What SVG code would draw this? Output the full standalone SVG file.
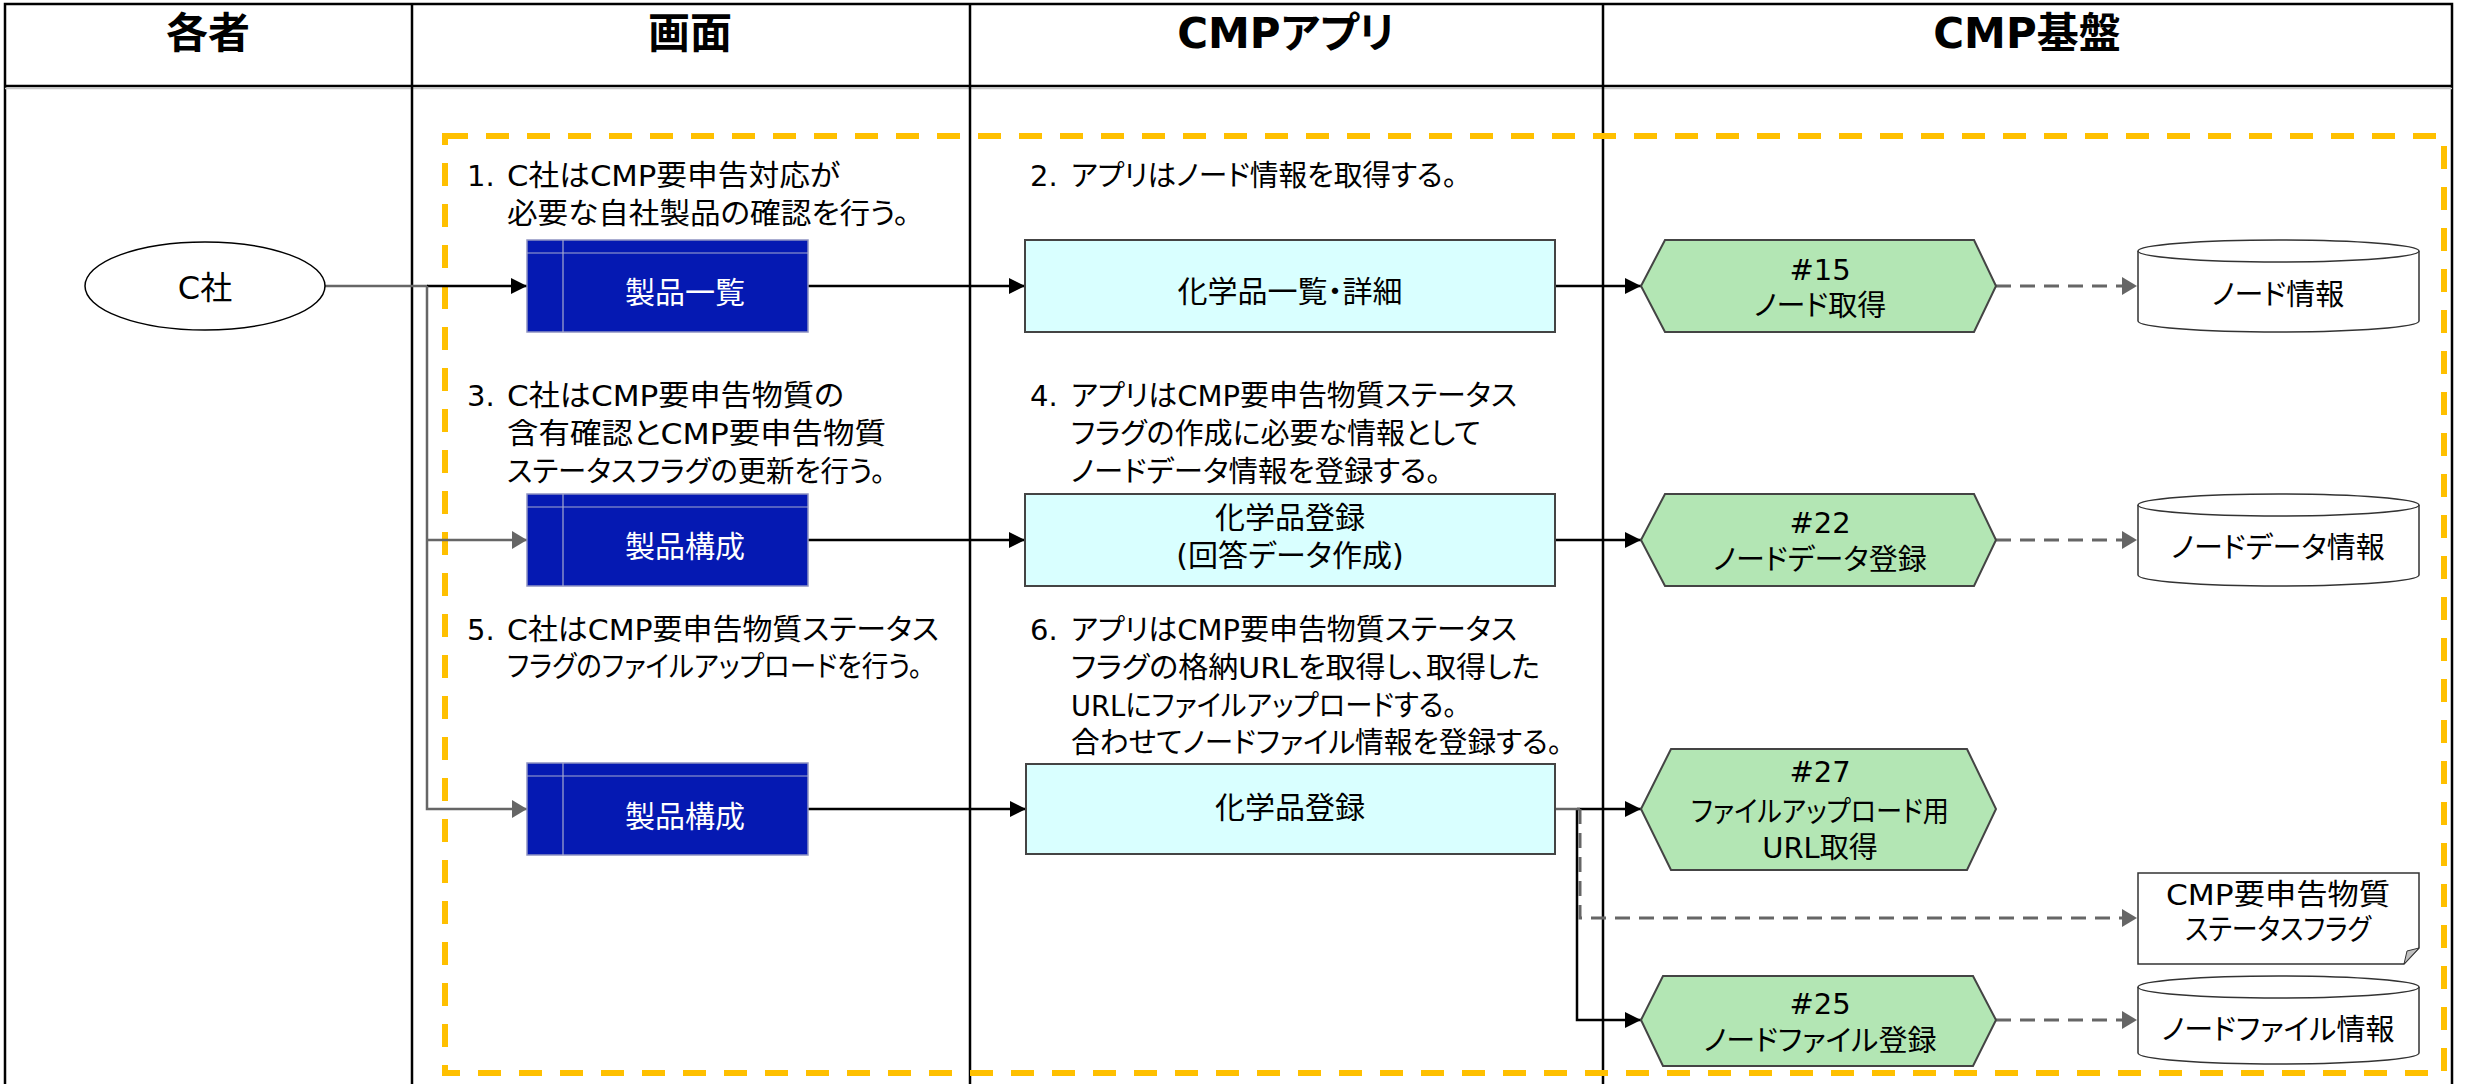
<svg xmlns="http://www.w3.org/2000/svg" width="2466" height="1084" viewBox="0 0 2466 1084">
<defs>
<style>
text{font-family:"DejaVu Sans","Noto Sans CJK JP",sans-serif;fill:#000;font-feature-settings:"palt" 1;}
.hd{font-size:42px;font-weight:bold;text-anchor:middle;}
.st{font-size:29px;}
.bx{font-size:30px;text-anchor:middle;}
.hx{font-size:29px;text-anchor:middle;}
.cy{font-size:29px;text-anchor:middle;}
.wt{fill:#fff;}
.grid{stroke:#000;stroke-width:2.5;fill:none;}
.blue{fill:#0519B2;stroke:#8E93C2;stroke-width:1.5;}
.bline{stroke:#A6AACF;stroke-width:1.2;}
.cyan{fill:#D9FFFF;stroke:#444;stroke-width:2;}
.hex{fill:#B3E6B4;stroke:#444;stroke-width:2;}
.db{fill:#fff;stroke:#333;stroke-width:1.5;}
.blk{stroke:#000;stroke-width:2.5;fill:none;}
.gry{stroke:#666;stroke-width:2.5;fill:none;}
.dsh{stroke:#666;stroke-width:3;fill:none;stroke-dasharray:15 9;}
</style>
<marker id="ab" markerUnits="userSpaceOnUse" markerWidth="18" markerHeight="18" refX="16" refY="8" orient="auto"><path d="M0,0 L16,8 L0,16 Z" fill="#000"/></marker>
<marker id="ag" markerUnits="userSpaceOnUse" markerWidth="18" markerHeight="20" refX="15" refY="9" orient="auto"><path d="M0,0 L15,9 L0,18 Z" fill="#666"/></marker>
</defs>
<rect width="2466" height="1084" fill="#fff"/>
<g id="frame">
<path class="grid" d="M5,1084 V4 H2452 V1084"/>
<line x1="5" y1="86" x2="2452" y2="86" stroke="#000" stroke-width="2.5"/>
<line x1="5" y1="88.5" x2="2452" y2="88.5" stroke="#C8C8C8" stroke-width="1.5"/>
<line class="grid" x1="412" y1="4" x2="412" y2="1084"/>
<line class="grid" x1="970" y1="4" x2="970" y2="1084"/>
<line class="grid" x1="1603" y1="4" x2="1603" y2="1084"/>
<text class="hd" x="208" y="48">各者</text>
<text class="hd" x="690" y="48">画面</text>
<text class="hd" x="1286" y="48">CMPアプリ</text>
<text class="hd" x="2027" y="48">CMP基盤</text>
</g>
<rect id="scope" x="445" y="136" width="1999" height="937" fill="none" stroke="#FFC000" stroke-width="6" stroke-dasharray="23 18"/>
<g id="steps">
<text class="st" x="467" y="186">1.</text>
<text class="st" x="507" y="186" textLength="333" lengthAdjust="spacingAndGlyphs">C社はCMP要申告対応が</text>
<text class="st" x="507" y="224" textLength="402" lengthAdjust="spacingAndGlyphs">必要な自社製品の確認を行う。</text>
<text class="st" x="1030" y="186">2.</text>
<text class="st" x="1071" y="186" textLength="386" lengthAdjust="spacingAndGlyphs">アプリはノード情報を取得する。</text>
<text class="st" x="467" y="406">3.</text>
<text class="st" x="507" y="406" textLength="337" lengthAdjust="spacingAndGlyphs">C社はCMP要申告物質の</text>
<text class="st" x="507" y="444" textLength="379" lengthAdjust="spacingAndGlyphs">含有確認とCMP要申告物質</text>
<text class="st" x="507" y="482" textLength="378" lengthAdjust="spacingAndGlyphs">ステータスフラグの更新を行う。</text>
<text class="st" x="1030" y="406">4.</text>
<text class="st" x="1071" y="406" textLength="446" lengthAdjust="spacingAndGlyphs">アプリはCMP要申告物質ステータス</text>
<text class="st" x="1071" y="444" textLength="410" lengthAdjust="spacingAndGlyphs">フラグの作成に必要な情報として</text>
<text class="st" x="1071" y="482" textLength="370" lengthAdjust="spacingAndGlyphs">ノードデータ情報を登録する。</text>
<text class="st" x="467" y="640">5.</text>
<text class="st" x="507" y="640" textLength="432" lengthAdjust="spacingAndGlyphs">C社はCMP要申告物質ステータス</text>
<text class="st" x="507" y="677" textLength="415" lengthAdjust="spacingAndGlyphs">フラグのファイルアップロードを行う。</text>
<text class="st" x="1030" y="640">6.</text>
<text class="st" x="1071" y="640" textLength="446" lengthAdjust="spacingAndGlyphs">アプリはCMP要申告物質ステータス</text>
<text class="st" x="1071" y="678" textLength="469" lengthAdjust="spacingAndGlyphs">フラグの格納URLを取得し、取得した</text>
<text class="st" x="1071" y="716" textLength="386" lengthAdjust="spacingAndGlyphs">URLにファイルアップロードする。</text>
<text class="st" x="1071" y="753" textLength="491" lengthAdjust="spacingAndGlyphs">合わせてノードファイル情報を登録する。</text>
</g>
<g id="connectors">
<line class="gry" x1="325" y1="286" x2="428" y2="286"/>
<line class="blk" x1="427" y1="286" x2="527" y2="286" marker-end="url(#ab)"/>
<path class="gry" d="M427,286 V809 H527" marker-end="url(#ag)"/>
<path class="gry" d="M427,540 H527" marker-end="url(#ag)"/>
<line class="blk" x1="808" y1="286" x2="1025" y2="286" marker-end="url(#ab)"/>
<line class="blk" x1="808" y1="540" x2="1025" y2="540" marker-end="url(#ab)"/>
<line class="blk" x1="808" y1="809" x2="1026" y2="809" marker-end="url(#ab)"/>
<line class="blk" x1="1555" y1="286" x2="1641" y2="286" marker-end="url(#ab)"/>
<line class="blk" x1="1555" y1="540" x2="1641" y2="540" marker-end="url(#ab)"/>
<line class="blk" x1="1577" y1="809" x2="1641" y2="809" marker-end="url(#ab)"/>
<path class="blk" d="M1577,809 V1020 H1641" marker-end="url(#ab)"/>
<path class="dsh" d="M1580,809 V918 H2137" marker-end="url(#ag)"/>
<line class="gry" x1="1555" y1="809" x2="1580" y2="809"/>
<line class="dsh" x1="1996" y1="286" x2="2137" y2="286" marker-end="url(#ag)"/>
<line class="dsh" x1="1996" y1="540" x2="2137" y2="540" marker-end="url(#ag)"/>
<line class="dsh" x1="1996" y1="1020" x2="2137" y2="1020" marker-end="url(#ag)"/>
</g>
<g id="n-csha">
<ellipse cx="205" cy="286" rx="120" ry="44" fill="#fff" stroke="#000" stroke-width="1.5"/>
<text class="bx" x="205" y="299" style="font-size:32px">C社</text>
</g>
<g id="n-seihin-ichiran">
<rect class="blue" x="527" y="240" width="281" height="92"/>
<line class="bline" x1="563" y1="240" x2="563" y2="332"/>
<line class="bline" x1="527" y1="253" x2="808" y2="253"/>
<text class="bx wt" x="685" y="303">製品一覧</text>
</g>
<g id="n-seihin-kosei-1">
<rect class="blue" x="527" y="494" width="281" height="92"/>
<line class="bline" x1="563" y1="494" x2="563" y2="586"/>
<line class="bline" x1="527" y1="507" x2="808" y2="507"/>
<text class="bx wt" x="685" y="557">製品構成</text>
</g>
<g id="n-seihin-kosei-2">
<rect class="blue" x="527" y="763" width="281" height="92"/>
<line class="bline" x1="563" y1="763" x2="563" y2="855"/>
<line class="bline" x1="527" y1="776" x2="808" y2="776"/>
<text class="bx wt" x="685" y="827">製品構成</text>
</g>
<g id="n-kagaku-ichiran">
<rect class="cyan" x="1025" y="240" width="530" height="92"/>
<text class="bx" x="1290" y="302">化学品一覧・詳細</text>
</g>
<g id="n-kagaku-toroku-1">
<rect class="cyan" x="1025" y="494" width="530" height="92"/>
<text class="bx" x="1290" y="528">化学品登録</text>
<text class="bx" x="1290" y="566">(回答データ作成)</text>
</g>
<g id="n-kagaku-toroku-2">
<rect class="cyan" x="1026" y="764" width="529" height="90"/>
<text class="bx" x="1290" y="818">化学品登録</text>
</g>
<g id="n-15">
<polygon class="hex" points="1641,286 1665,240 1974,240 1996,286 1974,332 1665,332"/>
<text class="hx" x="1820" y="280">#15</text>
<text class="hx" x="1820" y="316">ノード取得</text>
</g>
<g id="n-22">
<polygon class="hex" points="1641,540 1665,494 1974,494 1996,540 1974,586 1665,586"/>
<text class="hx" x="1820" y="533">#22</text>
<text class="hx" x="1820" y="570">ノードデータ登録</text>
</g>
<g id="n-27">
<polygon class="hex" points="1641,809 1671,749 1967,749 1996,809 1967,870 1671,870"/>
<text class="hx" x="1820" y="782">#27</text>
<text class="hx" x="1820" y="822" textLength="258" lengthAdjust="spacingAndGlyphs">ファイルアップロード用</text>
<text class="hx" x="1820" y="858">URL取得</text>
</g>
<g id="n-25">
<polygon class="hex" points="1641,1020 1663,976 1973,976 1996,1020 1973,1066 1663,1066"/>
<text class="hx" x="1820" y="1014">#25</text>
<text class="hx" x="1820" y="1051">ノードファイル登録</text>
</g>
<g id="n-node-info">
<path class="db" d="M2138,251 A140.5,11 0 0 1 2419,251 V321 A140.5,11 0 0 1 2138,321 Z"/>
<path class="db" fill="none" d="M2138,251 A140.5,11 0 0 0 2419,251"/>
<text class="cy" x="2278" y="305">ノード情報</text>
</g>
<g id="n-nodedata-info">
<path class="db" d="M2138,505 A140.5,11 0 0 1 2419,505 V575 A140.5,11 0 0 1 2138,575 Z"/>
<path class="db" fill="none" d="M2138,505 A140.5,11 0 0 0 2419,505"/>
<text class="cy" x="2278" y="558">ノードデータ情報</text>
</g>
<g id="n-flag">
<path class="db" d="M2138,873 H2419 V948 L2404,964 H2138 Z"/>
<path d="M2419,948 L2404,964 L2407,951 Z" fill="#C0C0C0" stroke="#333" stroke-width="1"/>
<text class="cy" x="2278" y="905" textLength="224" lengthAdjust="spacingAndGlyphs">CMP要申告物質</text>
<text class="cy" x="2278" y="940" textLength="186" lengthAdjust="spacingAndGlyphs">ステータスフラグ</text>
</g>
<g id="n-nodefile-info">
<path class="db" d="M2138,987 A140.5,11 0 0 1 2419,987 V1053 A140.5,11 0 0 1 2138,1053 Z"/>
<path class="db" fill="none" d="M2138,987 A140.5,11 0 0 0 2419,987"/>
<text class="cy" x="2278" y="1040">ノードファイル情報</text>
</g>
</svg>
